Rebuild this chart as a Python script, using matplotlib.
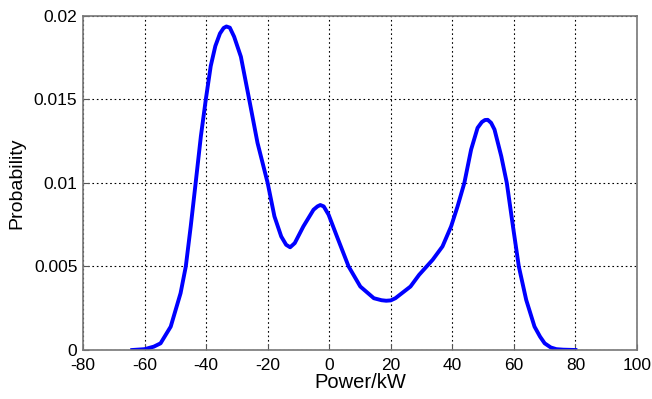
import matplotlib
matplotlib.use('Agg')
import matplotlib.pyplot as plt

# Courbe (puissance en kW, probabilité)
power = [-64, -60, -57, -54.8, -51.5, -48.3, -46.6, -45, -43.4, -41.7, -40.1, -38.5,
         -37, -35.5, -34.3, -33.4, -32.3, -30.9, -28.7, -26, -23.3, -20, -17.8,
         -15.6, -14, -12.7, -11.2, -8.4, -5.1, -3.8, -2.9, -1.8, -0.2, 2.5, 6.3,
         10.1, 14.5, 17, 18.5, 20, 21.5, 26.4, 29.2, 33.6, 36.8, 39.6, 41.7,
         43.9, 46.1, 48.2, 49.6, 50.6, 51.5, 52.6, 53.7, 55.9, 57.7, 59.7, 61.6,
         64, 66.7, 68.5, 70, 72, 73.8, 76, 80]
prob = [0, 0.00005, 0.0002, 0.0004, 0.0014, 0.0034, 0.005, 0.0074, 0.010, 0.0128, 0.015, 0.017,
        0.0182, 0.01895, 0.01928, 0.01937, 0.0193, 0.01876, 0.01756, 0.015, 0.0124, 0.010, 0.008,
        0.0068, 0.0063, 0.00615, 0.0064, 0.0074, 0.0084, 0.0086, 0.00868, 0.0086, 0.0081, 0.0068, 0.005,
        0.0038, 0.0031, 0.00298, 0.00295, 0.00297, 0.0031, 0.0038, 0.0045, 0.0054, 0.0062, 0.0074, 0.0086,
        0.010, 0.012, 0.0133, 0.01365, 0.01377, 0.01378, 0.0136, 0.0132, 0.0116, 0.010, 0.0074, 0.005,
        0.003, 0.0014, 0.0008, 0.0004, 0.00015, 0.00005, 0.00002, 0]

xticks = [-80, -60, -40, -20, 0, 20, 40, 60, 80, 100]
yticks = [0, 0.005, 0.01, 0.015, 0.02]
ylabels = ['0', '0.005', '0.01', '0.015', '0.02']

plt.rcParams['font.family'] = ['Liberation Sans', 'DejaVu Sans']
plt.rcParams['axes.unicode_minus'] = False

fig = plt.figure(figsize=(6.52, 3.99), dpi=100)
ax = fig.add_axes([0.1273, 0.1228, 0.8497, 0.8372])

ax.plot(power, prob, color=(0, 0, 1), linewidth=2.8, solid_joinstyle='round')

ax.set_xlim(-80, 100)
ax.set_ylim(0, 0.02)
ax.set_xticks(xticks)
ax.set_yticks(yticks)
ax.set_yticklabels(ylabels)
ax.tick_params(direction='in', labelsize=12.5, length=4, color='#555555')
ax.tick_params(axis='x', pad=6)
ax.tick_params(axis='y', pad=4)
ax.grid(True, linestyle=(0, (1.5, 2.5)), color='black', linewidth=0.8)
for s in ax.spines.values():
    s.set_color('#777777')
    s.set_linewidth(1.2)

ax.set_xlabel('Power/kW', fontsize=14.5, labelpad=0)
ax.set_ylabel('Probability', fontsize=14, labelpad=6)

fig.savefig('out.png', dpi=100)
